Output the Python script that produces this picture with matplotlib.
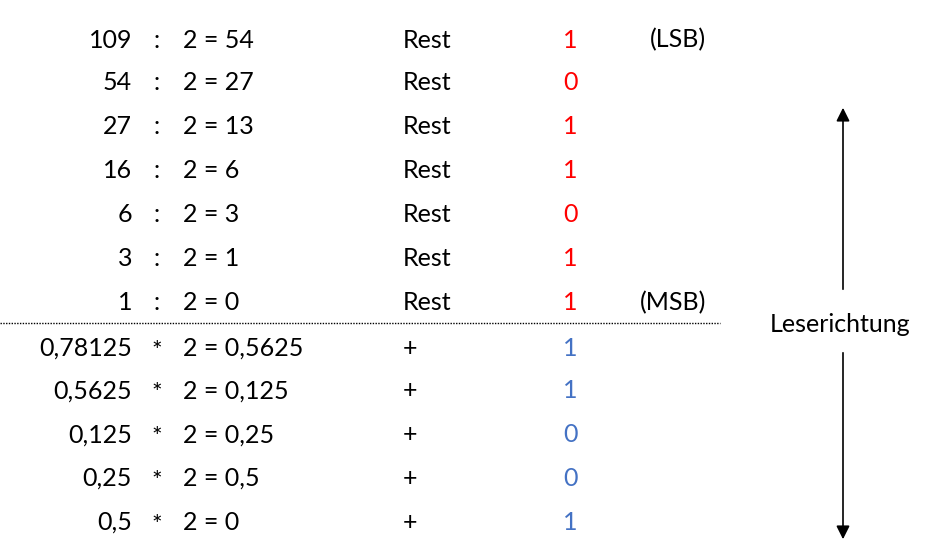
import matplotlib.pyplot as plt

# integer part
int_div = ["109", "54", "27", "16", "6", "3", "1"]
int_res = ["2 = 54", "2 = 27", "2 = 13", "2 = 6", "2 = 3", "2 = 1", "2 = 0"]
int_rest = ["1", "0", "1", "1", "0", "1", "1"]
# fractional part
frac_val = ["0,78125", "0,5625", "0,125", "0,25", "0,5"]
frac_res = ["2 = 0,5625", "2 = 0,125", "2 = 0,25", "2 = 0,5", "2 = 0"]
frac_bit = ["1", "1", "0", "0", "1"]

row_y = [40, 83, 127, 171, 215, 259, 303, 348, 391, 435, 478, 522]

plt.rcParams['font.family'] = ['Lato', 'DejaVu Sans']
fig = plt.figure(figsize=(9.38, 5.59), dpi=100)
ax = fig.add_axes([0, 0, 1, 1])
ax.set_xlim(0, 938)
ax.set_ylim(559, 0)
ax.axis('off')

fs = 18
red = '#ff0000'
blue = '#4472c4'

for i in range(len(int_div)):
    y = row_y[i]
    ax.text(132, y, int_div[i], ha='right', va='center', fontsize=fs)
    ax.text(157, y, ":", ha='center', va='center', fontsize=fs)
    ax.text(183, y, int_res[i], ha='left', va='center', fontsize=fs)
    ax.text(403, y, "Rest", ha='left', va='center', fontsize=fs)
    ax.text(570, y, int_rest[i], ha='center', va='center', fontsize=fs, color=red)

for j in range(len(frac_val)):
    y = row_y[len(int_div) + j]
    ax.text(132, y, frac_val[j], ha='right', va='center', fontsize=fs)
    ax.text(157, y + 3, "*", ha='center', va='center', fontsize=fs)
    ax.text(183, y, frac_res[j], ha='left', va='center', fontsize=fs)
    ax.text(410, y, "+", ha='center', va='center', fontsize=fs)
    ax.text(570, y, frac_bit[j], ha='center', va='center', fontsize=fs, color=blue)

ax.text(650, row_y[0], "(LSB)", ha='left', va='center', fontsize=fs)
ax.text(640, row_y[6], "(MSB)", ha='left', va='center', fontsize=fs)

ax.plot([0, 720], [323, 323], color='black', linestyle=(0, (1, 1)), linewidth=1)

ax.annotate("", xy=(843, 105), xytext=(843, 292),
            arrowprops=dict(arrowstyle='-|>', color='black', lw=1.2, mutation_scale=20))
ax.annotate("", xy=(843, 542), xytext=(843, 350),
            arrowprops=dict(arrowstyle='-|>', color='black', lw=1.2, mutation_scale=20))
ax.text(840, 325, "Leserichtung", ha='center', va='center', fontsize=fs)

fig.savefig("out.png", dpi=100)
